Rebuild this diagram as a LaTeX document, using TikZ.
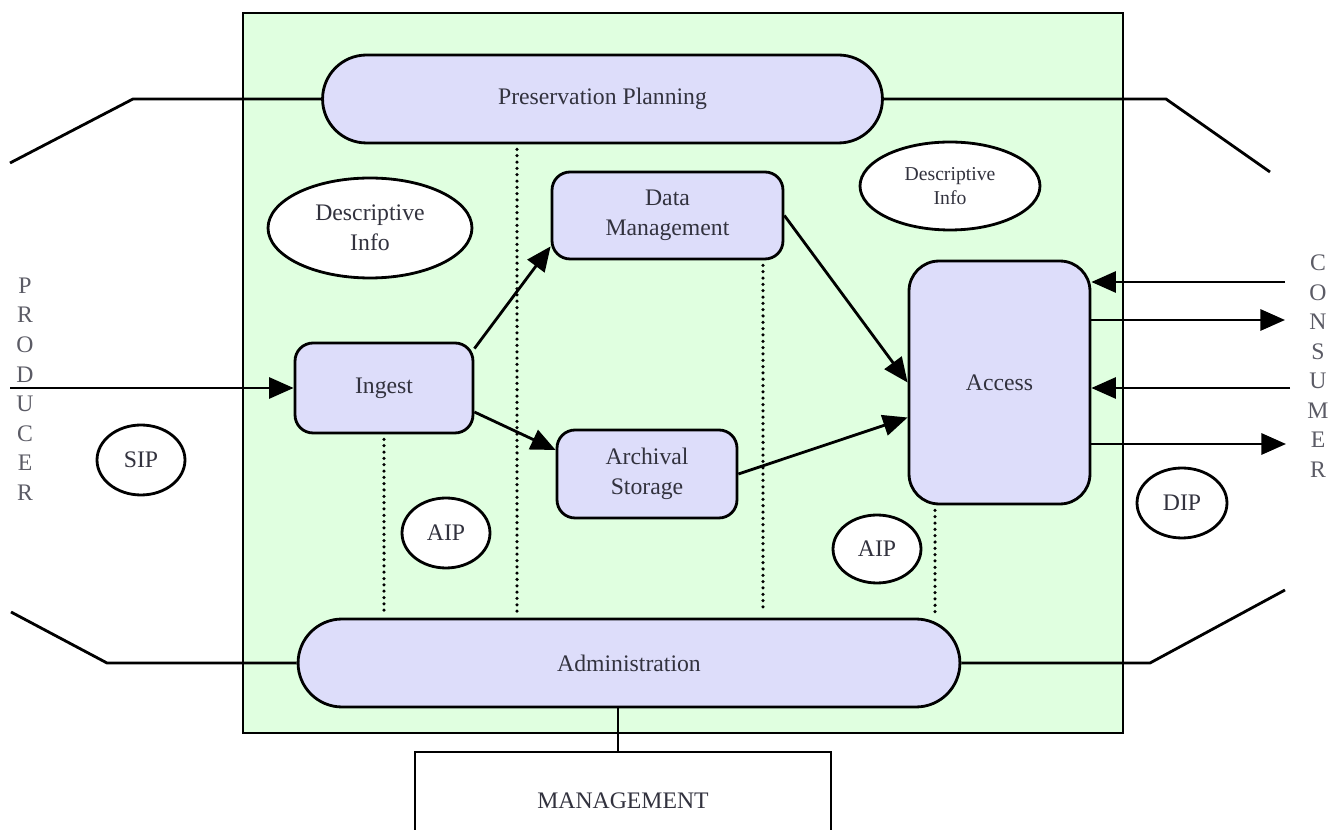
\documentclass[tikz,border=0pt]{standalone}
\usepackage{fontspec}
\setmainfont{Liberation Serif}
\usetikzlibrary{arrows.meta,shapes.geometric,calc}
\definecolor{archgreen}{RGB}{224,255,224}
\definecolor{funcblue}{RGB}{221,221,250}
\definecolor{labgray}{RGB}{50,50,62}

\begin{document}
\begin{tikzpicture}[>={Triangle[length=14pt,width=12pt]},x=0.02cm,y=-0.02cm,
    line width=1.6pt,
    func/.style={draw,fill=funcblue,text=labgray,align=center,inner sep=0pt,
      font=\fontsize{13.5}{17}\selectfont},
    info/.style={ellipse,draw,fill=white,text=labgray,align=center,inner sep=0pt,
      font=\fontsize{13.5}{17}\selectfont},
    dotline/.style={line width=2pt,dash pattern=on 0pt off 3.6pt,line cap=round},
    party/.style={text=labgray!80,align=center,font=\fontsize{13.5}{16.8}\selectfont}]
    \useasboundingbox (0,0) rectangle (1343,830);
    % --- archive environment
    \draw[fill=archgreen] (243,13) rectangle (1123,733);
    % --- functional entities
    \node[func,minimum width=11.2cm,minimum height=1.76cm,rounded corners=0.88cm] (pp) at (602.5,99) {Preservation Planning};
    \node[func,minimum width=13.24cm,minimum height=1.76cm,rounded corners=0.88cm] (admin) at (629,663) {Administration};
    \node[func,minimum width=3.56cm,minimum height=1.8cm,rounded corners=0.36cm] (ingest) at (384,388) {Ingest};
    \node[func,minimum width=4.62cm,minimum height=1.74cm,rounded corners=0.36cm] (dm) at (667.5,215.5) {Data\\Management};
    \node[func,minimum width=3.6cm,minimum height=1.76cm,rounded corners=0.36cm] (as) at (647,474) {Archival\\Storage};
    \node[func,minimum width=3.62cm,minimum height=4.86cm,rounded corners=0.6cm] (access) at (999.5,382.5) {Access};
    \node[draw,fill=white,text=labgray,minimum width=8.32cm,minimum height=1.96cm,
      font=\fontsize{13.5}{17}\selectfont] (mgmt) at (623,801) {MANAGEMENT};
    % --- information packages
    \node[info,minimum width=4.08cm,minimum height=2cm] (descl) at (370,228) {Descriptive\\Info};
    \node[info,minimum width=3.6cm,minimum height=1.76cm,font=\fontsize{11.2}{14}\selectfont] (descr) at (950,186) {Descriptive\\Info};
    \node[info,minimum width=1.76cm,minimum height=1.4cm] (sip) at (141,460) {SIP};
    \node[info,minimum width=1.76cm,minimum height=1.4cm] (aipl) at (446,533) {AIP};
    \node[info,minimum width=1.76cm,minimum height=1.36cm] (aipr) at (877,549) {AIP};
    \node[info,minimum width=1.8cm,minimum height=1.4cm] (dip) at (1182,503) {DIP};
    % --- producer and consumer
    \node[party] (producer) at (25,389) {P\\R\\O\\D\\U\\C\\E\\R};
    \node[party] (consumer) at (1318,366) {C\\O\\N\\S\\U\\M\\E\\R};
    % --- outside links
    \coordinate (tl1) at (10,163);   \coordinate (tl2) at (133,99);
    \coordinate (tr1) at (1166,99);  \coordinate (tr2) at (1270,172);
    \coordinate (bl1) at (11,612);   \coordinate (bl2) at (107,663);
    \coordinate (br1) at (1150,663); \coordinate (br2) at (1285,590);
    \draw (tl1) -- (tl2) -- (pp.west);
    \draw (pp.east) -- (tr1) -- (tr2);
    \draw (bl1) -- (bl2) -- (admin.west);
    \draw (admin.east) -- (br1) -- (br2);
    \coordinate (d5) at (618,0);
    \draw (admin.south -| d5) -- (mgmt.north -| d5);
    % --- flows
    \coordinate (pin) at (10,388);
    \draw[->] (pin) -- (ingest.west);
    \draw[->] ([yshift=-0.14cm]ingest.north east) -- ([yshift=0.28cm]dm.south west);
    \draw[->] ([yshift=-0.48cm]ingest.east) -- ([yshift=0.48cm]as.west);
    \draw[->] (dm.east) -- (access.west);
    \draw[->] (as.east) -- ([yshift=-0.7cm]access.west);
    \coordinate (c1) at (1285,282); \coordinate (c2) at (1285,320);
    \coordinate (c3) at (1290,388); \coordinate (c4) at (1286,444);
    \draw[->] (c1) -- (access.east |- c1);
    \draw[->] (access.east |- c2) -- (c2);
    \draw[->] (c3) -- (access.east |- c3);
    \draw[->] (access.east |- c4) -- (c4);
    % --- dotted separators
    \coordinate (d2) at (517,0); \coordinate (d3) at (763,0); \coordinate (d4) at (935,0);
    \draw[dotline] ([yshift=-0.1cm]ingest.south) -- ([yshift=0.1cm]admin.north -| ingest.south);
    \draw[dotline] ([yshift=-0.1cm]pp.south -| d2) -- ([yshift=0.1cm]admin.north -| d2);
    \draw[dotline] ([yshift=-0.1cm]dm.south -| d3) -- ([yshift=0.1cm]admin.north -| d3);
    \draw[dotline] ([yshift=-0.1cm]access.south -| d4) -- ([yshift=0.1cm]admin.north -| d4);
\end{tikzpicture}
\end{document}
